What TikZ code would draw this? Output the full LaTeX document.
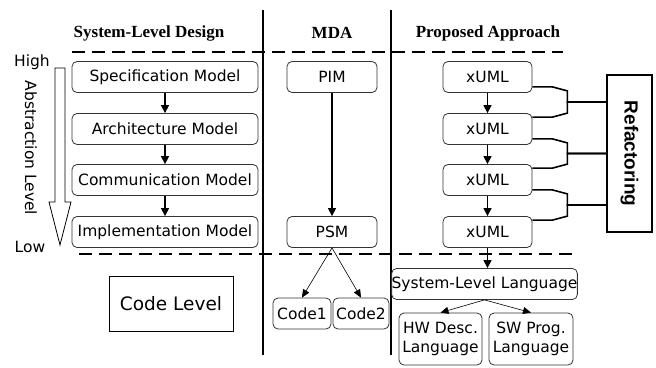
\documentclass[tikz,border=0pt]{standalone}
\usepackage{fontspec}
\usepackage{graphicx}
\setmainfont{DejaVu Sans}
\newfontfamily\headfont{Liberation Serif}
\newfontfamily\refacfont{Liberation Sans}
\usetikzlibrary{arrows.meta,calc}

\begin{document}
\begin{tikzpicture}[x=1pt,y=-1pt,
    every node/.append style={font=\fontsize{15.5}{19}\selectfont},
    model/.style={draw=black!80,line width=0.8pt,rounded corners=5pt,
        minimum height=31pt,inner sep=0pt},
    heading/.style={font=\headfont\bfseries\fontsize{17}{19}\selectfont},
    sep/.style={line width=2.5pt,dash pattern=on 13pt off 7pt},
    flow/.style={line width=1.3pt,-{Triangle[length=8pt,width=8pt]}},
    thinflow/.style={line width=0.6pt,-{Triangle[length=8pt,width=7pt]}},
    link/.style={line width=1.6pt}]
    \useasboundingbox (0,0) rectangle (656,367);

    % column headings and separators
    \node[heading] (hsld) at (149,33) {System-Level Design};
    \node[heading] (hmda) at (332,33) {MDA};
    \node[heading] (hprop) at (488,33) {Proposed Approach};
    \draw[line width=1.8pt] (263,10) -- (263,355);
    \draw[line width=1.8pt] (391,10) -- (391,355);
    \draw[sep] (72,52) -- (563,52);
    \draw[sep] (79,254) -- (572,254);

    % abstraction level
    \node (high) at (32,62) {High};
    \node (low) at (30,247) {Low};
    \node[rotate=-90] (abstr) at (31,148) {Abstraction Level};
    \draw[line width=0.8pt,fill=white] (55,68) -- (65,68) -- (65,202)
        -- (71,202) -- (60,245) -- (49,202) -- (55,202) -- cycle;

    % system-level design
    \node[model,minimum width=186pt] (spec) at (165,77) {Specification Model};
    \node[model,minimum width=186pt] (arch) at (165,129) {Architecture Model};
    \node[model,minimum width=186pt] (comm) at (165,180) {Communication Model};
    \node[model,minimum width=186pt] (impl) at (165,232) {Implementation Model};
    \draw[flow] (spec) -- (arch);
    \draw[flow] (arch) -- (comm);
    \draw[flow] (comm) -- (impl);
    \node[draw,line width=0.8pt,minimum width=124pt,minimum height=55pt,
        font=\fontsize{18.5}{20}\selectfont] (codelvl) at (171,303.5) {Code Level};

    % MDA
    \node[model,minimum width=90pt] (pim) at (332,77) {PIM};
    \node[model,minimum width=90pt] (psm) at (332,232) {PSM};
    \node[model,minimum width=58pt] (code1) at (302,313.5) {Code1};
    \node[model,minimum width=56pt] (code2) at (361,313.5) {Code2};
    \draw[flow] (pim) -- (psm);
    \draw[thinflow] (psm.south) -- (code1.north);
    \draw[thinflow] (psm.south) -- (code2.north);

    % proposed approach
    \foreach \i/\y in {1/77,2/129,3/180,4/232}
        \node[model,minimum width=89pt] (xuml\i) at (487.5,\y) {xUML};
    \draw[flow] (xuml1) -- (xuml2);
    \draw[flow] (xuml2) -- (xuml3);
    \draw[flow] (xuml3) -- (xuml4);
    \node[model,minimum width=171pt] (sll) at (484.5,284) {System-Level Language};
    \node[model,minimum width=83pt,minimum height=52pt,align=center] (hw)
        at (440.5,339) {HW Desc.\\Language};
    \node[model,minimum width=84pt,minimum height=52pt,align=center] (sw)
        at (531,339) {SW Prog.\\Language};
    \draw[flow] (xuml4.south) -- (xuml4.south |- sll.north);
    \draw[thinflow] (sll.south) -- (hw.north);
    \draw[thinflow] (sll.south) -- (sw.north);

    % refactoring
    \node[draw,line width=1.3pt,minimum width=45pt,minimum height=157pt,inner sep=0pt]
        (refac) at (629.5,153.5)
        {\rotatebox{-90}{\refacfont\bfseries\fontsize{19}{21}\selectfont Refactoring}};
    \foreach \upper/\lower in {xuml1/xuml2,xuml2/xuml3,xuml3/xuml4} {
        \coordinate (top) at ([yshift=6pt]\upper.south east);
        \coordinate (bot) at ([yshift=-4pt]\lower.north east);
        \coordinate (mid) at ($(top)!0.5!(bot)$);
        \draw[link] (top) -- ++(20,0) -- ++(15,4) |- (mid -| refac.west);
        \draw[link] (bot) -- ++(20,0) -- ++(15,-4) |- (mid -| refac.west);
    }
\end{tikzpicture}
\end{document}
